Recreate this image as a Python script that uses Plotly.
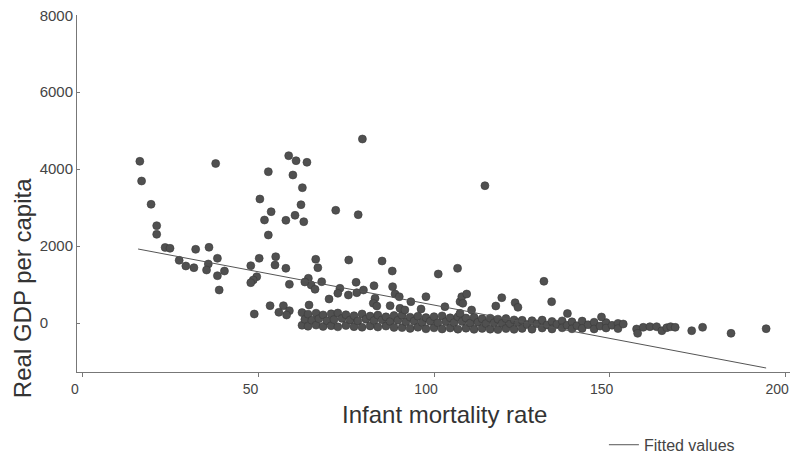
import plotly.graph_objects as go

# Infant mortality rate (per 1,000 live births) and real GDP per capita
mort_scatter = [
    16.2, 16.7, 19.4, 21.0, 21.0, 23.4, 24.8, 32.1, 35.9, 27.4, 29.3, 31.6, 38.3, 35.7,
    35.2, 40.3, 38.3, 38.8, 37.8, 52.8, 50.4, 53.6, 51.7, 52.8, 58.6, 60.7, 63.8, 59.8,
    62.5, 62.1, 57.8, 60.4, 62.9, 72.0, 78.4, 79.6, 50.2, 47.8, 54.9, 54.7, 57.8, 49.5,
    48.5, 47.8, 58.8, 53.3, 48.8, 55.8, 57.1, 58.8, 58.0, 66.3, 66.9, 75.7, 85.2, 88.1,
    101.2, 106.7, 64.2, 65.0, 66.1, 68.0, 63.2, 77.8, 82.9, 88.2, 73.2, 72.6, 75.6, 78.0,
    79.9, 70.1, 83.2, 82.7, 83.7, 88.9, 90.1, 93.4, 97.7, 103.1, 107.4, 107.9, 64.4, 87.5,
    90.3, 91.7, 96.3, 114.5, 131.3, 109.3, 108.2, 119.3, 117.6, 123.1, 123.9, 133.5, 110.7,
    138.0, 147.7, 153.9, 157.7, 158.0, 159.6, 161.5, 163.4, 164.9, 166.3, 167.4, 168.7,
    173.4, 176.5, 184.6, 194.6, 107.4,
]
gdp_scatter = [
    4204, 3692, 3086, 2530, 2306, 1964, 1942, 1916, 1968, 1630, 1482, 1438, 1682, 1534,
    1378, 1352, 1230, 858, 4147, 3934, 3224, 2894, 2678, 2288, 4350, 4220, 4178, 3848,
    3518, 3076, 2670, 2800, 2634, 2930, 2816, 4784, 1682, 1490, 1724, 1508, 1422, 1204,
    1118, 1048, 1006, 450, 234, 278, 450, 320, 208, 1656, 1438, 1638, 1612, 1352,
    1274, 1422, 1162, 988, 876, 1074, 1066, 1058, 970, 944, 902, 772, 728, 788,
    858, 624, 642, 512, 442, 754, 684, 554, 684, 424, 554, 684, 468, 450,
    382, 338, 364, 3570, 1084, 754, 512, 658, 442, 528, 408, 554, 338,
    247, 156, -26, -156, -268, -112, -96, -96, -200, -122, -96, -112,
    -200, -112, -268, -148, 252,
]

# Low-income cluster with GDP per capita close to zero
mort_cluster = [
    62.4, 62.4, 63.2, 64.1, 64.1, 65.2, 66.4, 66.4, 67.2, 68.4, 68.4, 69.5, 70.7, 70.7,
    71.5, 72.6, 72.6, 73.8, 74.9, 74.9, 76.1, 77.2, 77.2, 78.3, 79.5, 79.5, 80.6, 81.8,
    81.8, 82.9, 84.0, 84.0, 85.2, 86.3, 86.3, 87.5, 88.6, 88.6, 89.7, 90.9, 90.9, 92.0,
    93.2, 93.2, 94.3, 95.4, 95.4, 96.6, 97.7, 97.7, 98.9, 100.0, 100.0, 101.1, 102.3,
    102.3, 103.4, 104.6, 104.6, 105.7, 106.8, 106.8, 108.0, 109.1, 109.1, 110.3, 111.4,
    111.4, 112.5, 113.7, 113.7, 114.8, 116.0, 116.0, 117.1, 118.2, 118.2, 119.4, 120.5,
    120.5, 121.7, 122.8, 122.8, 123.9, 125.1, 125.1, 126.5, 127.9, 127.9, 129.3, 130.8,
    130.8, 132.2, 133.6, 133.6, 135.0, 136.5, 136.5, 137.9, 139.3, 139.3, 140.7, 142.2,
    142.2, 143.9, 145.6, 145.6, 147.3, 149.0, 149.0, 150.7, 152.4, 152.4,
]
gdp_cluster = [
    270, -60, 95, 230, -85, 70, 255, -55, 110, 210, -90, 60, 240, -70,
    90, 260, -100, 120, 215, -65, 80, 190, -95, 55, 235, -110, 100, 180,
    -75, 65, 205, -105, 85, 160, -80, 40, 195, -115, 70, 200, -120, 30,
    150, -140, 50, 175, -110, 15, 140, -150, 45, 165, -125, 5, 185,
    -155, 35, 135, -130, 10, 160, -160, 40, 130, -135, 0, 150,
    -165, 20, 110, -140, -15, 125, -160, 5, 100, -170, -10, 115,
    -145, -20, 80, -165, 10, 70, -140, -40, 60, -160, -20, 75,
    -130, -50, 40, -155, -30, 55, -125, -60, 30, -150, -70, 50,
    -140, -45, 20, -155, -80, 10, -130, -60, -10, -145,
]

# Linear prediction (fitted values)
mort_fit = [15.7, 194.6]
gdp_fit = [1924, -1170]

x_ticks = [0, 50, 100, 150, 200]
y_ticks = [0, 2000, 4000, 6000, 8000]
# figure spaces keep the short label left-aligned with the four-digit ones
y_tick_text = ["0\u2007\u2007\u2007", "2000", "4000", "6000", "8000"]

FONT = "Liberation Sans, Arial, Helvetica, sans-serif"

fig = go.Figure()

fig.add_trace(go.Scatter(
    x=mort_cluster + mort_scatter,
    y=gdp_cluster + gdp_scatter,
    mode="markers",
    marker=dict(size=8, color="#505050", line=dict(width=0.6, color="#3a3a3a")),
    showlegend=False,
    name="Real GDP per capita",
))

fig.add_trace(go.Scatter(
    x=mort_fit,
    y=gdp_fit,
    mode="lines",
    line=dict(color="#555555", width=1),
    name="Fitted values",
    showlegend=True,
))

fig.update_layout(
    width=791,
    height=474,
    margin=dict(l=77, r=1, t=15, b=102),
    paper_bgcolor="white",
    plot_bgcolor="white",
    font=dict(family=FONT, color="#333333"),
    legend=dict(
        x=0.739, y=-0.204, xanchor="left", yanchor="middle",
        orientation="h",
        font=dict(size=16, color="#444444"),
        bgcolor="rgba(0,0,0,0)",
    ),
    annotations=[
        dict(
            text="Real GDP per capita", textangle=-90,
            xref="paper", yref="paper", x=-0.0771, y=0.235,
            xanchor="center", yanchor="middle", showarrow=False,
            font=dict(size=24, color="#333333"),
        ),
        dict(
            text="Infant mortality rate",
            xref="paper", yref="paper", x=0.515, y=-0.118,
            xanchor="center", yanchor="middle", showarrow=False,
            font=dict(size=24, color="#333333"),
        ),
    ],
)

fig.update_xaxes(
    range=[-1.7, 201.4],
    tickvals=x_ticks,
    ticks="outside", ticklen=4, tickcolor="#777777",
    ticklabelshift=-8,
    showline=True, linecolor="#777777", linewidth=1,
    showgrid=False, zeroline=False,
    tickfont=dict(size=14, color="#444444"),
)

fig.update_yaxes(
    range=[-1274, 8008],
    tickvals=y_ticks, ticktext=y_tick_text,
    ticks="inside", ticklen=3, tickcolor="#777777",
    showline=True, linecolor="#777777", linewidth=1,
    showgrid=False, zeroline=False,
    tickfont=dict(size=15, color="#444444"),
)

fig.write_html("out.html")
